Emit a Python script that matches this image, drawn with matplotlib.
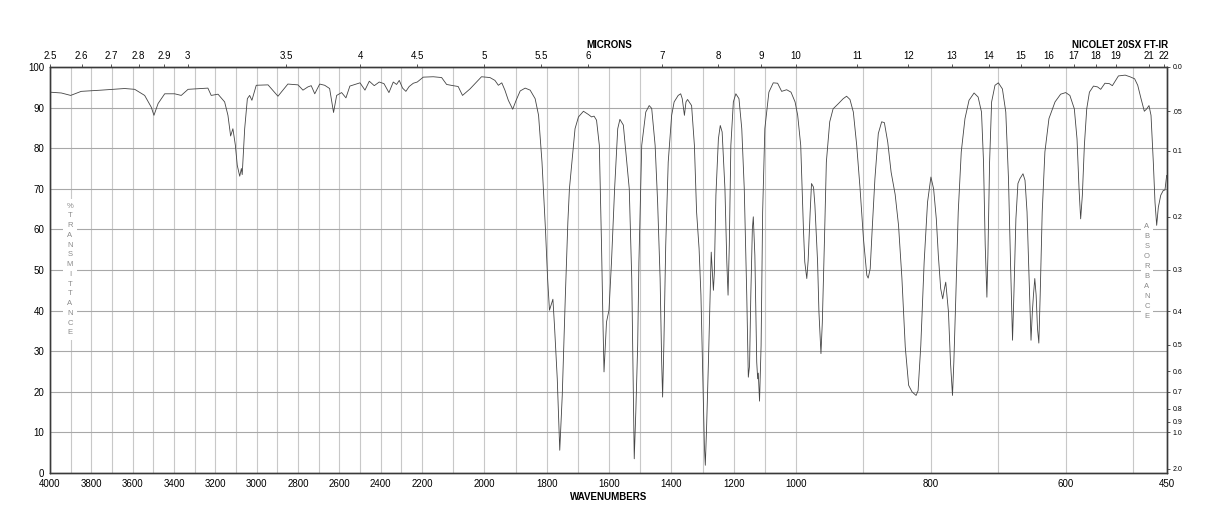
import numpy as np
import matplotlib
matplotlib.use('Agg')
import matplotlib.pyplot as plt

plt.rcParams['font.family'] = ['Liberation Sans', 'DejaVu Sans']

# Espectre IR llegit de la gràfica (cm-1, %T)
wavenumber = [
    4000, 3945, 3900, 3849, 3752, 3639, 3590, 3542, 3510, 3497, 3477, 3445, 3397, 3365, 3332,
    3236, 3220, 3187, 3155, 3139, 3126, 3115, 3103, 3094, 3082, 3074, 3070, 3058, 3045, 3034,
    3023, 3002, 2945, 2897, 2849, 2800, 2776, 2752, 2736, 2719, 2695, 2671, 2647, 2628, 2613,
    2589, 2568, 2549, 2500, 2476, 2455, 2431, 2407, 2384, 2360, 2339, 2323, 2310, 2294, 2278,
    2262, 2242, 2223, 2196, 2164, 2137, 2121, 2100, 2084, 2070, 2046, 2025, 2009, 1982, 1966,
    1955, 1944, 1934, 1923, 1909, 1898, 1885, 1869, 1853, 1837, 1826, 1815, 1804, 1797, 1791,
    1786, 1780, 1775, 1766, 1758, 1750, 1740, 1732, 1727, 1719, 1709, 1698, 1682, 1666, 1656,
    1648, 1640, 1631, 1624, 1619, 1616, 1608, 1600, 1592, 1582, 1572, 1565, 1554, 1543, 1535,
    1527, 1522, 1519, 1514, 1508, 1504, 1495, 1482, 1471, 1463, 1452, 1444, 1436, 1431, 1428,
    1424, 1418, 1410, 1399, 1391, 1378, 1370, 1365, 1358, 1353, 1348, 1335, 1326, 1319, 1311,
    1305, 1299, 1294, 1291, 1287, 1281, 1276, 1272, 1269, 1265, 1262, 1257, 1249, 1243, 1237,
    1228, 1222, 1218, 1214, 1209, 1201, 1193, 1183, 1174, 1166, 1158, 1153, 1149, 1145, 1140,
    1137, 1132, 1126, 1123, 1121, 1117, 1112, 1107, 1100, 1087, 1073, 1059, 1046, 1030, 1016,
    1003, 997.5, 993, 989, 987, 984, 982, 979, 977, 974, 972, 968, 966, 963, 961,
    958, 955, 950, 945, 937, 930, 925, 920, 915, 910, 905, 900, 895, 893, 890,
    887, 883, 878, 873, 869, 864, 859, 853, 848, 843, 838, 833, 828, 822, 819,
    815, 810, 805, 800, 796, 792, 789, 785.5, 782.5, 780, 778, 774, 771, 768, 766,
    763, 759.5, 755, 749.5, 743.5, 736, 730, 725, 722, 719.5, 717, 715.5, 713, 710, 705,
    700, 694, 689, 685, 682, 679, 677, 674, 671, 668, 663.5, 660.5, 657.5, 654.5, 651.6,
    649.6, 648, 646, 644, 642, 640, 638, 635, 631, 625, 616, 607.7, 600.2, 594, 587.4,
    583.4, 580.4, 578, 575.5, 572.5, 569, 565, 559, 553, 548.3, 542, 535.5, 531, 522, 512,
    505, 498, 493.4, 488.5, 483.6, 480, 476.7, 473.7, 470.3, 467.8, 465.3, 462.9, 459.3, 455.5, 453,
    450.5,
]
transmittance = [
    93.8, 93.6, 93.0, 94.0, 94.3, 94.7, 94.5, 93.0, 90.1, 88.1, 91.0, 93.4, 93.4, 93.0, 94.5,
    94.8, 93.0, 93.3, 91.4, 88.1, 83.0, 84.8, 80.7, 75.8, 73.1, 75.0, 73.5, 84.8, 92.2, 93.0,
    91.8, 95.5, 95.6, 92.8, 95.8, 95.6, 94.3, 95.1, 95.4, 93.4, 95.8, 95.5, 94.7, 88.8, 93.0,
    93.7, 92.4, 95.3, 96.1, 94.3, 96.5, 95.4, 96.3, 95.9, 93.7, 96.3, 95.7, 96.7, 94.8, 94.0,
    95.2, 96.0, 96.3, 97.5, 97.6, 97.4, 95.7, 95.4, 95.2, 93.0, 94.6, 96.3, 97.6, 97.4, 96.7,
    95.5, 96.1, 94.3, 91.8, 89.6, 91.8, 94.1, 94.8, 94.3, 92.2, 88.1, 76.6, 60.2, 47.9, 40.1,
    41.3, 42.8, 36.4, 23.2, 5.6, 19.1, 43.8, 61.8, 70.0, 76.6, 84.8, 87.7, 89.1, 88.3, 87.7,
    87.9, 86.9, 80.7, 56.1, 35.6, 24.9, 37.2, 40.1, 52.0, 70.0, 84.8, 87.1, 85.7, 76.6, 70.0,
    47.9, 19.1, 3.5, 15.0, 31.4, 52.0, 80.7, 88.9, 90.5, 89.8, 80.7, 66.7, 47.9, 27.3, 18.7,
    31.4, 56.1, 76.6, 88.1, 91.4, 93.0, 93.4, 92.2, 88.1, 91.4, 92.0, 90.5, 80.7, 64.3, 55.3,
    43.8, 23.2, 6.8, 1.9, 10.9, 27.3, 42.1, 54.4, 50.3, 45.0, 49.3, 68.4, 82.3, 85.6, 84.0,
    70.0, 52.0, 43.8, 56.1, 80.7, 91.4, 93.4, 92.2, 84.8, 70.0, 43.8, 23.6, 26.5, 43.8, 60.2,
    63.1, 53.6, 27.3, 23.2, 24.6, 17.7, 31.4, 64.3, 84.8, 93.8, 96.1, 96.0, 94.0, 94.4, 93.8,
    91.4, 88.1, 80.7, 60.2, 52.0, 47.9, 52.3, 64.3, 71.3, 70.4, 66.0, 52.0, 39.7, 29.4, 37.0,
    56.1, 76.6, 86.5, 89.7, 91.0, 92.2, 92.8, 92.0, 88.9, 80.7, 70.0, 57.7, 48.7, 48.0, 50.3,
    60.2, 72.5, 83.6, 86.5, 86.3, 81.5, 74.1, 68.6, 61.0, 48.0, 31.0, 21.6, 20.0, 19.1, 20.3,
    31.4, 52.0, 66.7, 72.9, 70.0, 62.6, 53.6, 45.4, 42.9, 45.4, 47.0, 39.7, 27.3, 19.1, 27.3,
    43.8, 64.3, 79.1, 87.3, 91.8, 93.6, 92.6, 88.9, 76.6, 56.1, 43.3, 53.6, 76.6, 91.4, 95.5,
    96.1, 94.6, 88.9, 72.5, 52.0, 32.7, 43.8, 62.6, 71.3, 72.5, 73.7, 72.1, 64.3, 47.9, 32.7,
    39.7, 43.8, 47.9, 43.8, 35.6, 32.0, 43.8, 64.3, 79.1, 87.3, 91.4, 93.3, 93.7, 93.0, 89.7,
    82.3, 70.0, 62.6, 68.4, 80.7, 89.7, 93.8, 95.3, 95.1, 94.5, 96.0, 95.9, 95.4, 97.8, 98.0,
    97.6, 97.1, 95.5, 92.2, 89.1, 89.7, 90.5, 88.1, 76.6, 66.7, 61.0, 65.4, 68.4, 69.6, 69.7,
    73.3,
]

wn_ticks = [4000, 3800, 3600, 3400, 3200, 3000, 2800, 2600, 2400, 2200,
            2000, 1800, 1600, 1400, 1200, 1000, 800, 600, 450]
micron_ticks = [2.5, 2.6, 2.7, 2.8, 2.9, 3, 3.5, 4, 4.5, 5, 5.5, 6, 7, 8, 9, 10,
                11, 12, 13, 14, 15, 16, 17, 18, 19, 21, 22]
abs_ticks = [0.0, 0.05, 0.1, 0.2, 0.3, 0.4, 0.5, 0.6, 0.7, 0.8, 0.9, 1.0, 2.0]
abs_labels = ['0.0', '.05', '0.1', '0.2', '0.3', '0.4', '0.5', '0.6', '0.7',
              '0.8', '0.9', '1.0', '2.0']

# Escala trencada de l'espectrofotòmetre: 4000-2200, 2200-1000, 1000-450
brk_wn = [450, 1000, 2200, 4000]
brk_pos = [0, 371, 745, 1117]

def fwd(x):
    return np.interp(x, brk_wn, brk_pos)

def inv(p):
    return np.interp(p, brk_pos, brk_wn)

gray_txt = '#8a8a8a'
spine_col = '#3a3a3a'

fig = plt.figure(figsize=(12.18, 5.28), dpi=100, facecolor='white')
ax = fig.add_axes([50/1218, 55/528, 1117/1218, 406/528])
ax.set_xscale('function', functions=(fwd, inv))
ax.set_xlim(4000, 450)
ax.set_ylim(0, 100)

ax.set_xticks(wn_ticks)
ax.set_xticklabels([str(w) for w in wn_ticks])
ax.set_xticks(np.arange(500, 4000, 100), minor=True)
ax.set_yticks(np.arange(0, 101, 10))
ax.grid(True, which='both', axis='x', color='#c8c8c8', linewidth=0.8)
ax.grid(True, which='major', axis='y', color='#a8a8a8', linewidth=0.8)
ax.tick_params(axis='both', which='both', length=0, labelsize=7, pad=4)

ax.plot(wavenumber, transmittance, color='#444444', linewidth=0.6)

for sp in ax.spines.values():
    sp.set_color(spine_col)
    sp.set_linewidth(0.9)

# eix superior en micres
ax2 = ax.twiny()
ax2.set_xscale('function', functions=(fwd, inv))
ax2.set_xlim(4000, 450)
ax2.set_xticks([10000 / m for m in micron_ticks])
ax2.set_xticklabels([f'{m:g}' for m in micron_ticks])
ax2.xaxis.set_minor_locator(matplotlib.ticker.NullLocator())
ax2.tick_params(axis='x', length=2.5, width=0.6, color=spine_col, labelsize=7, pad=1.5)

# eix dret en absorbància
ax3 = ax.twinx()
ax3.set_ylim(0, 100)
ax3.set_yticks([100 * 10 ** (-a) for a in abs_ticks])
ax3.set_yticklabels(abs_labels)
ax3.tick_params(axis='y', length=2.5, width=0.6, color=spine_col, labelsize=5, pad=1.5)
for a_ in (ax2, ax3):
    for sp in a_.spines.values():
        sp.set_color(spine_col)
        sp.set_linewidth(0.9)

box = dict(facecolor='white', edgecolor='none', pad=2.5)
ax.text(20/1117, 0.501, '\n'.join('%TRANSMITTANCE'), transform=ax.transAxes,
        ha='center', va='center', fontsize=5.5, color=gray_txt, linespacing=1.55, bbox=box)
ax.text(1097/1117, 0.4975, '\n'.join('ABSORBANCE'), transform=ax.transAxes,
        ha='center', va='center', fontsize=5.5, color=gray_txt, linespacing=1.6, bbox=box)

fig.text(609/1218, 1 - 44.7/528, 'MICRONS', ha='center', va='center', fontsize=7, fontweight='bold')
fig.text(1120/1218, 1 - 44.7/528, 'NICOLET 20SX FT-IR', ha='center', va='center', fontsize=7, fontweight='bold')
fig.text(609/1218, 1 - 496.7/528, 'WAVENUMBERS', ha='center', va='center', fontsize=7, fontweight='bold')

fig.savefig('out.png', dpi=100, facecolor='white')
